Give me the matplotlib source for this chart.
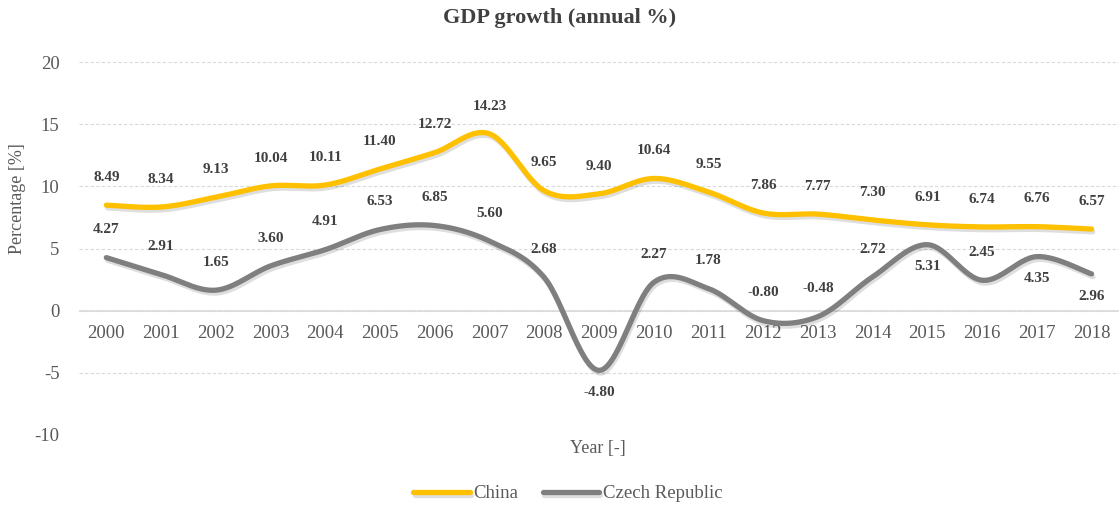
import numpy as np
import matplotlib
matplotlib.use("Agg")
from matplotlib import pyplot as plt
import matplotlib.patheffects as pe

plt.rcParams['font.family'] = ['Liberation Serif', 'DejaVu Serif']
plt.rcParams['axes.unicode_minus'] = False

years = [2000, 2001, 2002, 2003, 2004, 2005, 2006, 2007, 2008, 2009,
         2010, 2011, 2012, 2013, 2014, 2015, 2016, 2017, 2018]
china = [8.49, 8.34, 9.13, 10.04, 10.11, 11.40, 12.72, 14.23, 9.65, 9.40,
         10.64, 9.55, 7.86, 7.77, 7.30, 6.91, 6.74, 6.76, 6.57]
czech = [4.27, 2.91, 1.65, 3.60, 4.91, 6.53, 6.85, 5.60, 2.68, -4.80,
         2.27, 1.78, -0.80, -0.48, 2.72, 5.31, 2.45, 4.35, 2.96]
# labels drawn under the line for these years (Czech Republic)
czech_below = [2009, 2015, 2017, 2018]


def smooth(x, y, n=30):   # Catmull-Rom style smoothing like Excel's smoothed line
    x = np.asarray(x, float)
    y = np.asarray(y, float)
    xs, ys = [], []
    for i in range(len(x) - 1):
        p0 = (x[i - 1], y[i - 1]) if i > 0 else (x[i], y[i])
        p1 = (x[i], y[i])
        p2 = (x[i + 1], y[i + 1])
        p3 = (x[i + 2], y[i + 2]) if i + 2 < len(x) else (x[i + 1], y[i + 1])
        c1 = (p1[0] + (p2[0] - p0[0]) / 6, p1[1] + (p2[1] - p0[1]) / 6)
        c2 = (p2[0] - (p3[0] - p1[0]) / 6, p2[1] - (p3[1] - p1[1]) / 6)
        t = np.linspace(0, 1, n, endpoint=False)
        b0 = (1 - t) ** 3
        b1 = 3 * (1 - t) ** 2 * t
        b2 = 3 * (1 - t) * t ** 2
        b3 = t ** 3
        xs.extend(b0 * p1[0] + b1 * c1[0] + b2 * c2[0] + b3 * p2[0])
        ys.extend(b0 * p1[1] + b1 * c1[1] + b2 * c2[1] + b3 * p2[1])
    xs.append(x[-1])
    ys.append(y[-1])
    return np.array(xs), np.array(ys)


fig = plt.figure(figsize=(11.2, 5.09), dpi=100)
ax = fig.add_axes([0.0705, 0.1454, 0.9285, 0.7326])

idx = np.arange(len(years))
shadow = [pe.SimpleLineShadow(offset=(1, -2), shadow_color='black', alpha=0.13), pe.Normal()]

xs, ys = smooth(idx, china)
ax.plot(xs, ys, color='#FFC000', lw=3.8, solid_capstyle='round', label='China',
        path_effects=shadow, zorder=4)
xs, ys = smooth(idx, czech)
ax.plot(xs, ys, color='#7F7F7F', lw=3.8, solid_capstyle='round', label='Czech Republic',
        path_effects=shadow, zorder=4)

for i, v in enumerate(china):
    ax.annotate('%.2f' % v, (i, v), xytext=(0, 20), textcoords='offset points',
                ha='center', va='center', fontsize=11, fontweight='bold', color='#404040')
for i, v in enumerate(czech):
    if years[i] in czech_below:
        off = -16
    else:
        off = 20
    ax.annotate('%.2f' % v, (i, v), xytext=(0, off), textcoords='offset points',
                ha='center', va='center', fontsize=11, fontweight='bold', color='#404040')

ax.set_xlim(-0.5, len(years) - 0.5)
ax.set_ylim(-10, 20)
ax.set_yticks([-10, -5, 0, 5, 10, 15, 20])
ax.set_xticks(idx)
ax.set_xticklabels([str(y) for y in years])
ax.grid(axis='y', color='#D9D9D9', linestyle=(0, (3, 2)), lw=0.8)
ax.set_axisbelow(True)
ax.axhline(0, color='#D9D9D9', lw=1.2, zorder=1)

for s in ['top', 'right', 'left', 'bottom']:
    ax.spines[s].set_visible(False)
ax.tick_params(axis='both', length=0, colors='#595959', labelsize=13.5)
ax.tick_params(axis='x', pad=10)
ax.xaxis.set_ticks_position('bottom')
ax.spines['bottom'].set_position(('data', 0))
ax.tick_params(axis='y', pad=14)

fig.text(0.5, 0.965, 'GDP growth (annual %)', ha='center', va='center',
         fontsize=16, fontweight='bold', color='#404040')
fig.text(0.016, 0.61, 'Percentage [%]', rotation=90, ha='center', va='center',
         fontsize=13, color='#595959')
fig.text(0.534, 0.118, 'Year [-]', ha='center', va='center', fontsize=13, color='#595959')

leg = fig.legend(loc='center', bbox_to_anchor=(0.507, 0.03), ncol=2, frameon=False,
                 fontsize=13.5, handlelength=3.0, handletextpad=0.2, columnspacing=1.3)
for t in leg.get_texts():
    t.set_color('#595959')

fig.savefig('out.png', dpi=100)
